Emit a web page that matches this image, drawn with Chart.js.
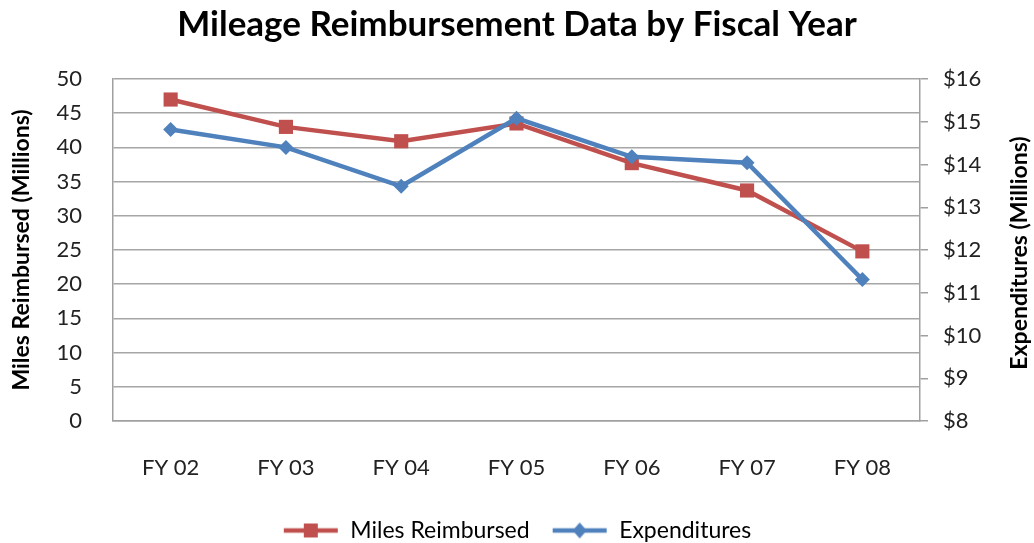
<!DOCTYPE html>
<html>
<head>
<meta charset="utf-8">
<script src="https://cdn.jsdelivr.net/npm/chart.js@4.4.0/dist/chart.umd.min.js"></script>
<style>
  html, body { margin: 0; padding: 0; background: #fff; }
  #wrap { width: 1034px; height: 543px; }
</style>
</head>
<body>
<div id="wrap"><canvas id="grafica"></canvas></div>
<script>
// datos
const categorias = ["FY 02", "FY 03", "FY 04", "FY 05", "FY 06", "FY 07", "FY 08"];
const millas = [47.0, 43.0, 40.9, 43.5, 37.7, 33.7, 24.8];
const gastos = [14.82, 14.40, 13.49, 15.08, 14.18, 14.04, 11.31];
const ticksMillas = [0, 5, 10, 15, 20, 25, 30, 35, 40, 45, 50];
const ticksGastos = [8, 9, 10, 11, 12, 13, 14, 15, 16];

const ROJO = "#C0504D";
const AZUL = "#4F81BD";
const FUENTE = "Lato, 'Liberation Sans', sans-serif";

// icono de leyenda: linea con marcador
function iconoLeyenda(color, forma) {
  const c = document.createElement("canvas");
  c.width = 56;
  c.height = 18;
  const ctx = c.getContext("2d");
  ctx.strokeStyle = color;
  ctx.lineWidth = 4.5;
  ctx.beginPath();
  ctx.moveTo(1, 9);
  ctx.lineTo(55, 9);
  ctx.stroke();
  ctx.fillStyle = color;
  if (forma === "cuadro") {
    ctx.fillRect(21, 2, 14, 14);
  } else {
    ctx.beginPath();
    ctx.moveTo(28, 1);
    ctx.lineTo(35, 9);
    ctx.lineTo(28, 17);
    ctx.lineTo(21, 9);
    ctx.closePath();
    ctx.fill();
  }
  return c;
}

// titulo del eje derecho, leído de abajo hacia arriba
const tituloDerecho = {
  id: "tituloDerecho",
  afterDraw(chart) {
    const ctx = chart.ctx;
    const area = chart.chartArea;
    ctx.save();
    ctx.translate(1020, (area.top + area.bottom) / 2 + 3);
    ctx.rotate(-Math.PI / 2);
    ctx.font = "bold 23px " + FUENTE;
    ctx.fillStyle = "#000";
    ctx.textAlign = "center";
    ctx.textBaseline = "middle";
    ctx.fillText("Expenditures (Millions)", 0, 0);
    ctx.restore();
  }
};

new Chart(document.getElementById("grafica"), {
  type: "line",
  data: {
    labels: categorias,
    datasets: [
      {
        label: "Miles Reimbursed",
        data: millas,
        yAxisID: "y",
        borderColor: ROJO,
        backgroundColor: ROJO,
        borderWidth: 4.5,
        pointStyle: "rect",
        pointRadius: 10,
        pointBorderWidth: 0,
        tension: 0,
        order: 1
      },
      {
        label: "Expenditures",
        data: gastos,
        yAxisID: "y2",
        borderColor: AZUL,
        backgroundColor: AZUL,
        borderWidth: 4.5,
        pointStyle: "rectRot",
        pointRadius: 7.5,
        pointBorderWidth: 0,
        tension: 0,
        order: 0
      }
    ]
  },
  options: {
    responsive: true,
    maintainAspectRatio: false,
    animation: false,
    layout: { padding: { bottom: -9 } },
    plugins: {
      tooltip: { enabled: false },
      title: {
        display: true,
        text: "Mileage Reimbursement Data by Fiscal Year",
        color: "#000",
        font: { family: FUENTE, size: 35, weight: "bold" },
        padding: { top: 4, bottom: 33 }
      },
      legend: {
        position: "bottom",
        labels: {
          usePointStyle: true,
          pointStyleWidth: 56,
          color: "#222",
          font: { family: FUENTE, size: 23 },
          padding: 22,
          generateLabels: () => [
            { text: "Miles Reimbursed", pointStyle: iconoLeyenda(ROJO, "cuadro"), fillStyle: ROJO, strokeStyle: ROJO, lineWidth: 0, datasetIndex: 0 },
            { text: "Expenditures", pointStyle: iconoLeyenda(AZUL, "rombo"), fillStyle: AZUL, strokeStyle: AZUL, lineWidth: 0, datasetIndex: 1 }
          ]
        }
      }
    },
    scales: {
      x: {
        offset: true,
        grid: { display: false, drawTicks: false },
        border: { color: "#a0a0a0", width: 1.5 },
        ticks: { color: "#222", font: { family: FUENTE, size: 22 }, padding: 34 },
        afterFit: (s) => { s.height = 76; }
      },
      y: {
        position: "left",
        min: 0,
        max: 50,
        afterBuildTicks: (s) => { s.ticks = ticksMillas.map(v => ({ value: v })); },
        grid: { color: "#a6a6a6", lineWidth: 1.5, drawTicks: false },
        border: { color: "#a0a0a0", width: 1.5 },
        ticks: { color: "#222", font: { family: FUENTE, size: 22 }, padding: 31 },
        title: {
          display: true,
          text: "Miles Reimbursed (Millions)",
          color: "#000",
          font: { family: FUENTE, size: 23, weight: "bold" },
          padding: { top: 8, bottom: 0 }
        },
        afterFit: (s) => { s.width = 113; }
      },
      y2: {
        position: "right",
        min: 8,
        max: 16,
        afterBuildTicks: (s) => { s.ticks = ticksGastos.map(v => ({ value: v })); },
        grid: { drawOnChartArea: false, color: "#a0a0a0", lineWidth: 1.5, tickLength: 8 },
        border: { color: "#a0a0a0", width: 1.5 },
        ticks: {
          color: "#222",
          font: { family: FUENTE, size: 22 },
          padding: 15,
          callback: (v) => "$" + v
        },
        afterFit: (s) => { s.width = 114; }
      }
    }
  },
  plugins: [tituloDerecho]
});
</script>
</body>
</html>
